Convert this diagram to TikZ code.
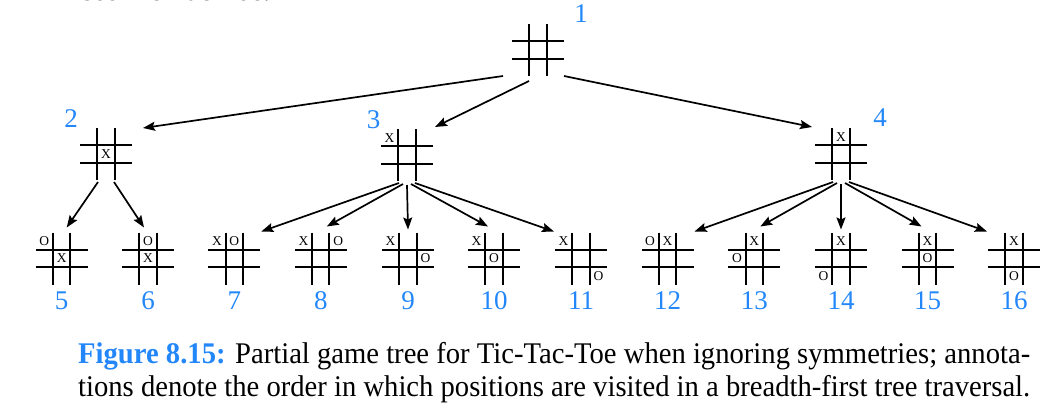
\documentclass[tikz,border=0pt]{standalone}
\usepackage{fontspec}
\setmainfont{Liberation Serif}
\usetikzlibrary{calc,arrows.meta}
\definecolor{figblue}{RGB}{35,135,250}
\tikzset{
  board/.style={inner sep=0pt, minimum size=52pt},
  gridline/.style={line width=2.1pt, black},
  cellmark/.style={inner sep=0pt, font=\fontsize{13.5}{13.5}\selectfont},
  arr/.style={line width=1.7pt, -{Stealth[length=12pt,width=9pt,inset=2pt]}},
  num/.style={inner sep=0pt, text=figblue, font=\fontsize{27}{27}\selectfont},
  captxt/.style={inner sep=0pt, anchor=base west, font=\fontsize{30}{30}\selectfont}
}
\newcommand\drawgrid[1]{%
  \draw[gridline] ($(#1.center)+(-8.6,-26)$) -- ++(0,52);
  \draw[gridline] ($(#1.center)+(8.6,-26)$) -- ++(0,52);
  \draw[gridline] ($(#1.center)+(-26,-8.6)$) -- ++(52,0);
  \draw[gridline] ($(#1.center)+(-26,8.6)$) -- ++(52,0);
}
\newcommand\tttboard[3]{%
  \node[board] (#1) at (#2) {};
  \drawgrid{#1}
  \foreach \m/\c/\r in {#3} {
    \node[cellmark] at ($(#1.center)+(\c*17.4,\r*17.2)$) {\m};
  }
}
\begin{document}
\begin{tikzpicture}[x=1pt,y=-1pt]
\useasboundingbox (0,0) rectangle (1060,416);
% cut-off text at top
\node[captxt] (toptext) at (82,0.5) {\resizebox{188pt}{\height}{see Tic-Tac-Toe.}};
% boards
\node[board] (b1) at (538,50) {};
\drawgrid{b1}
\tttboard{b2}{106,154}{X/0/0}
\tttboard{b3}{407,155}{X/-1/-1}
\tttboard{b4}{841,154}{X/0/-1}
\tttboard{b5}{61.7,258.5}{O/-1/-1,X/0/0}
\tttboard{b6}{148,258.5}{O/0/-1,X/0/0}
\tttboard{b7}{234.3,258.5}{X/-1/-1,O/0/-1}
\tttboard{b8}{320.8,258.5}{X/-1/-1,O/1/-1}
\tttboard{b9}{408,258.5}{X/-1/-1,O/1/0}
\tttboard{b10}{494,258.5}{X/-1/-1,O/0/0}
\tttboard{b11}{581,258.5}{X/-1/-1,O/1/1}
\tttboard{b12}{667.5,258.5}{O/-1/-1,X/0/-1}
\tttboard{b13}{754.3,258.5}{X/0/-1,O/-1/0}
\tttboard{b14}{841,258.5}{X/0/-1,O/-1/1}
\tttboard{b15}{927.5,258.5}{X/0/-1,O/0/0}
\tttboard{b16}{1014,258.5}{X/0/-1,O/0/1}
% numbers
\node[num] (n1) at (581,14) {1};
\node[num] (n2) at (71,119) {2};
\node[num] (n3) at (373.5,119.5) {3};
\node[num] (n4) at (880,118) {4};
\foreach \i in {5,...,16} {
  \node[num] (n\i) at ($(b\i.center)+(0,42.5)$) {\i};
}
% edges
\draw[arr] ($(b1.center)+(-35,26)$) -- ($(b2.center)+(37,-26)$);
\draw[arr] ($(b1.center)+(-9,31)$) -- ($(b3.center)+(28,-28)$);
\draw[arr] ($(b1.center)+(26,26)$) -- ($(b4.center)+(-29,-27)$);
\draw[arr] ($(b2.center)+(-8,28)$) -- ($(b5.center)+(5,-31)$);
\draw[arr] ($(b2.center)+(8,28)$) -- ($(b6.center)+(-4,-31)$);
\foreach \p in {3,4} {
  \pgfmathtruncatemacro\ca{\p==3 ? 7 : 12}
  \pgfmathtruncatemacro\cb{\ca+1}
  \pgfmathtruncatemacro\cc{\ca+2}
  \pgfmathtruncatemacro\cd{\ca+3}
  \pgfmathtruncatemacro\ce{\ca+4}
  \draw[arr] ($(b\p.center)+(-8,28)$) -- ($(b\ca.center)+(27,-27)$);
  \draw[arr] ($(b\p.center)+(-4,29)$) -- ($(b\cb.center)+(6,-32)$);
  \draw[arr] ($(b\p.center)+(0,30)$) -- ($(b\cc.center)+(0,-29)$);
  \draw[arr] ($(b\p.center)+(4,29)$) -- ($(b\cd.center)+(-6,-32)$);
  \draw[arr] ($(b\p.center)+(8,28)$) -- ($(b\ce.center)+(-27,-27)$);
}
% caption
\node[captxt] (cap1) at (78,363) {\resizebox{952pt}{\height}{\textcolor{figblue}{\textbf{Figure 8.15:}} Partial game tree for Tic-Tac-Toe when ignoring symmetries; annota-}};
\node[captxt] (cap2) at (78,396) {\resizebox{952pt}{\height}{tions denote the order in which positions are visited in a breadth-first tree traversal.}};
\end{tikzpicture}
\end{document}
